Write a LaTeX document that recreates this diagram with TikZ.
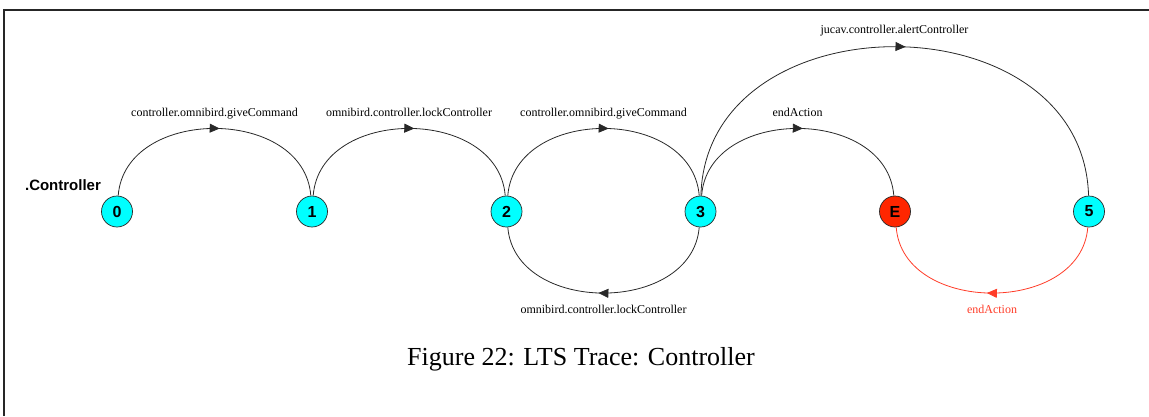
\documentclass[tikz,border=0pt]{standalone}
\usepackage{fontspec}
\setmainfont{Liberation Serif}
\setsansfont{Liberation Sans}
\usetikzlibrary{arrows.meta,decorations.markings}
\definecolor{statecyan}{RGB}{0,255,255}
\definecolor{endred}{RGB}{255,38,0}
\definecolor{edgered}{RGB}{255,60,40}
\definecolor{edgegray}{RGB}{40,40,40}
\tikzset{
  state/.style={circle, draw=edgegray, line width=0.7pt, fill=statecyan,
    minimum size=31pt, inner sep=0pt,
    font=\sffamily\bfseries\fontsize{16}{16}\selectfont},
  endstate/.style={state, fill=endred},
  trans/.style={draw=edgegray, line width=0.8pt, postaction={decorate},
    decoration={markings, mark=at position 0.52 with {\arrow{Triangle[length=10pt,width=9pt]}}}},
  redtrans/.style={trans, color=edgered, draw=edgered},
  lbl/.style={anchor=base, inner sep=0pt, font=\fontsize{12}{14}\selectfont},
  redlbl/.style={lbl, text=edgered},
  frame/.style={line width=2pt, draw=black!85}
}
\begin{document}
\begin{tikzpicture}[x=1pt, y=-1pt]
  \useasboundingbox (0,0) rectangle (1149,416);
  % frame
  \draw[frame] (4,416) -- (4,10) -- (1149,10);

  % states
  \node[state] (n0) at (117,211.5) {0};
  \node[state] (n1) at (312,211.5) {1};
  \node[state] (n2) at (506.5,211.5) {2};
  \node[state] (n3) at (700.5,211.5) {3};
  \node[endstate] (nE) at (895,211.5) {E};
  \node[state] (n5) at (1089,211.5) {5};

  \node[anchor=base, inner sep=0pt, font=\sffamily\bfseries\fontsize{15}{15}\selectfont] (title) at (63,190) {.Controller};

  % transitions above the states
  \draw[trans] (n0) .. controls (125,106) and (304,106) .. (n1);
  \draw[trans] (n1) .. controls (320,106) and (498,106) .. (n2);
  \draw[trans] (n2) .. controls (515,106) and (692,106) .. (n3);
  \draw[trans] (n3) .. controls (708,106) and (887,106) .. (nE);
  \draw[trans] (n3) .. controls (706,-3) and (1083,-3) .. (n5);

  % transitions below the states
  \draw[trans] (n3) .. controls (692,315) and (515,315) .. (n2);
  \draw[redtrans] (n5) .. controls (1081,315) and (903,315) .. (nE);

  % labels
  \node[lbl] (l01) at (214.5,116) {controller.omnibird.giveCommand};
  \node[lbl] (l12) at (409,116) {omnibird.controller.lockController};
  \node[lbl] (l23) at (603.5,116) {controller.omnibird.giveCommand};
  \node[lbl] (l3E) at (797.5,116) {endAction};
  \node[lbl] (l35) at (894.5,33) {jucav.controller.alertController};
  \node[lbl] (l32) at (603.5,313) {omnibird.controller.lockController};
  \node[redlbl] (l5E) at (992,313) {endAction};

  % caption
  \node[anchor=base, inner sep=0pt, font=\fontsize{26}{30}\selectfont] (cap) at (581,365) {Figure 22: LTS Trace: Controller};
\end{tikzpicture}
\end{document}
